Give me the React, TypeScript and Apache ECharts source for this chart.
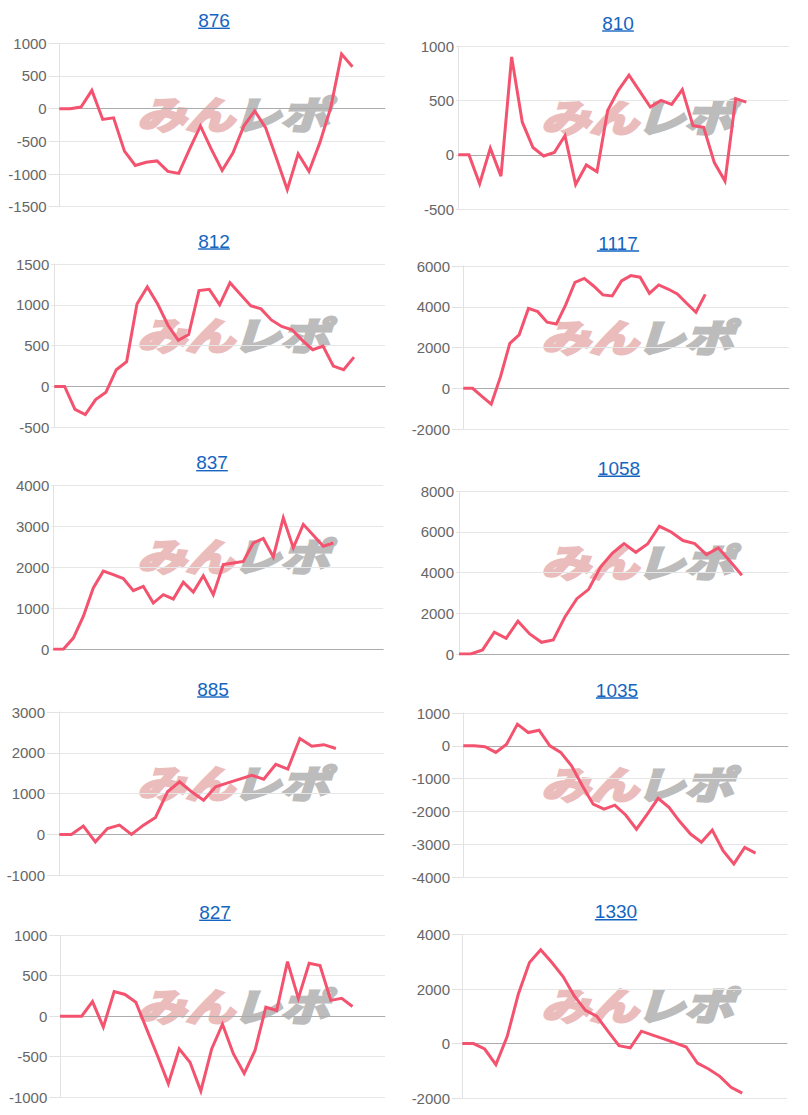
import React, { useEffect, useRef } from 'react';
import * as echarts from 'echarts';

// ---- data ----
const titles = ['876', '810', '812', '1117', '837', '1058', '885', '1035', '827', '1330'];

const d876 = [0, 0, 25, 280, -165, -140, -650, -870, -820, -800, -960, -990, -620, -265, -620, -945, -675, -265, -35, -290, -760, -1240, -690, -960, -520, 15, 835, 640];
const d810 = [0, 0, -265, 62, -195, 900, 300, 68, -10, 22, 176, -272, -93, -155, 408, 593, 732, 585, 440, 500, 463, 600, 269, 253, -71, -241, 516, 485];
const d812 = [0, 0, -280, -345, -160, -70, 205, 305, 1010, 1220, 1010, 750, 565, 635, 1175, 1190, 1000, 1270, 1130, 990, 950, 815, 735, 695, 565, 450, 495, 250, 205, 360];
const d1117 = [0, 0, -400, -780, 570, 2200, 2620, 3920, 3760, 3240, 3150, 4090, 5200, 5390, 5020, 4580, 4530, 5270, 5530, 5450, 4660, 5070, 4870, 4630, 4170, 3730, 4610];
const d837 = [0, 0, 275, 805, 1500, 1910, 1825, 1730, 1435, 1540, 1130, 1335, 1230, 1640, 1400, 1800, 1335, 2070, 2110, 2150, 2600, 2710, 2260, 3215, 2480, 3055, 2790, 2520, 2600];
const d1058 = [0, 0, 200, 1070, 770, 1610, 985, 575, 690, 1835, 2720, 3180, 4260, 4950, 5430, 5000, 5410, 6280, 6000, 5580, 5430, 4890, 5220, 4560, 3870];
const d885 = [0, 0, 205, -180, 147, 228, 0, 228, 416, 1045, 1290, 1045, 840, 1170, 1265, 1355, 1450, 1355, 1720, 1600, 2350, 2160, 2200, 2105];
const d1035 = [0, 0, -30, -200, 50, 660, 405, 475, 0, -200, -610, -1220, -1780, -1930, -1810, -2110, -2540, -2080, -1600, -1875, -2310, -2690, -2940, -2570, -3200, -3600, -3100, -3270];
const d827 = [0, 0, 0, 180, -135, 305, 268, 173, -160, -490, -835, -405, -570, -925, -405, -100, -465, -710, -425, 110, 70, 675, 220, 655, 625, 195, 220, 120];
const d1330 = [0, 0, -200, -775, 245, 1810, 2980, 3445, 2980, 2460, 1750, 1220, 1010, 455, -75, -160, 455, 310, 170, 25, -125, -715, -935, -1205, -1610, -1820];

const seriesData = [d876, d810, d812, d1117, d837, d1058, d885, d1035, d827, d1330];

// number of x categories (days) per chart
const categoryCounts = [31, 32, 33, 36, 34, 29, 28, 31, 31, 30];

// y-axis ticks
const yMins = [-1500, -500, -500, -2000, 0, 0, -1000, -4000, -1000, -2000];
const yMaxs = [1000, 1000, 1500, 6000, 4000, 8000, 3000, 1000, 1000, 4000];
const yIntervals = [500, 500, 500, 2000, 1000, 2000, 1000, 1000, 500, 2000];

// ---- layout ----
const gridLeft = [59.3, 458.3, 54.3, 463.3, 53.3, 459, 59.3, 463.3, 60, 462.3];
const gridRight = [385, 789, 385, 789, 383.3, 789, 384, 788, 385, 787];
const gridTop = [43.3, 46, 264, 266, 485.7, 491.3, 712, 713, 935.3, 934.7];
const gridBottom = [206.7, 209.3, 427.3, 429, 649.3, 654, 875.3, 877, 1097, 1098];
const titleX = [214, 618, 214, 618, 212, 619, 213, 617, 215, 616];
const labelMargin = [12.6, 4.3, 5, 13.3, 4, 5, 14.3, 13.3, 12.7, 12.3];

const LINE_COLOR = '#f3536f';
const TITLE_COLOR = '#1565c0';
const FONT = '"Liberation Sans", Arial, Helvetica, sans-serif';
const CJK = '"Noto Sans CJK JP", sans-serif';

function wmText(text: string, x: number, color: string) {
  return {
    type: 'text',
    x,
    y: 0,
    scaleX: 1.28,
    style: {
      text,
      fontSize: 38,
      fontWeight: 'bold',
      fontStyle: 'italic',
      fontFamily: CJK,
      fill: color,
      stroke: color,
      lineWidth: 3,
      lineJoin: 'round',
      textVerticalAlign: 'top',
    },
  };
}

function buildOption() {
  const grid: any[] = [];
  const xAxis: any[] = [];
  const yAxis: any[] = [];
  const series: any[] = [];
  const graphic: any[] = [];

  seriesData.forEach((data, i) => {
    const L = gridLeft[i];
    const R = gridRight[i];
    const T = gridTop[i];
    const B = gridBottom[i];
    grid.push({ left: L, top: T, width: R - L, height: B - T, containLabel: false });
    const cats: string[] = [];
    for (let k = 1; k <= categoryCounts[i]; k++) cats.push(String(k));
    xAxis.push({
      type: 'category',
      gridIndex: i,
      data: cats,
      boundaryGap: false,
      axisLine: { show: true, onZero: true, lineStyle: { color: 'rgba(0,0,0,0.25)', width: 1 } },
      axisTick: { show: false },
      axisLabel: { show: false },
      splitLine: { show: false },
    });
    yAxis.push({
      type: 'value',
      gridIndex: i,
      min: yMins[i],
      max: yMaxs[i],
      interval: yIntervals[i],
      axisLine: { show: true, lineStyle: { color: '#e2e2e2', width: 1 } },
      axisTick: { show: true, length: Math.max(labelMargin[i] - 2, 2), lineStyle: { color: '#e2e2e2' } },
      axisLabel: {
        show: true,
        margin: labelMargin[i],
        color: '#666',
        fontSize: 15,
        fontFamily: FONT,
        formatter: (v: number) => String(v),
      },
      splitLine: { show: true, lineStyle: { color: '#e6e6e6', width: 1 } },
    });
    series.push({
      type: 'line',
      xAxisIndex: i,
      yAxisIndex: i,
      data,
      symbol: 'none',
      smooth: false,
      z: 5,
      lineStyle: { color: LINE_COLOR, width: 3, join: 'miter' },
      itemStyle: { color: LINE_COLOR },
    });

    // title with underline
    const cy = T - 23;
    const tw = titles[i].length * 19 * 0.556;
    graphic.push({
      type: 'text',
      x: titleX[i],
      y: cy,
      z: 10,
      style: {
        text: titles[i],
        fontSize: 19,
        fontFamily: FONT,
        fill: TITLE_COLOR,
        textAlign: 'center',
        textVerticalAlign: 'middle',
      },
    });
    graphic.push({
      type: 'line',
      z: 10,
      shape: { x1: titleX[i] - tw / 2, y1: cy + 8, x2: titleX[i] + tw / 2, y2: cy + 8 },
      style: { stroke: TITLE_COLOR, lineWidth: 1.4 },
    });

    // watermark
    const colX = i % 2 === 0 ? 0 : 404;
    graphic.push({
      type: 'group',
      x: colX + 137,
      y: T + 50,
      z: 1,
      silent: true,
      children: [wmText('みん', 0, '#ebbcbc'), wmText('レポ', 95, '#bcbcbc')],
    });
  });

  return {
    animation: false,
    backgroundColor: '#ffffff',
    grid,
    xAxis,
    yAxis,
    series,
    graphic,
  };
}

export default function App() {
  const ref = useRef<HTMLDivElement>(null);
  useEffect(() => {
    if (!ref.current) return;
    const chart = echarts.init(ref.current, undefined, { renderer: 'svg' });
    chart.setOption(buildOption() as any);
    return () => chart.dispose();
  }, []);
  return (
    <div
      ref={ref}
      style={{ position: 'absolute', left: 0, top: 0, width: 808, height: 1115, background: '#fff' }}
    />
  );
}
